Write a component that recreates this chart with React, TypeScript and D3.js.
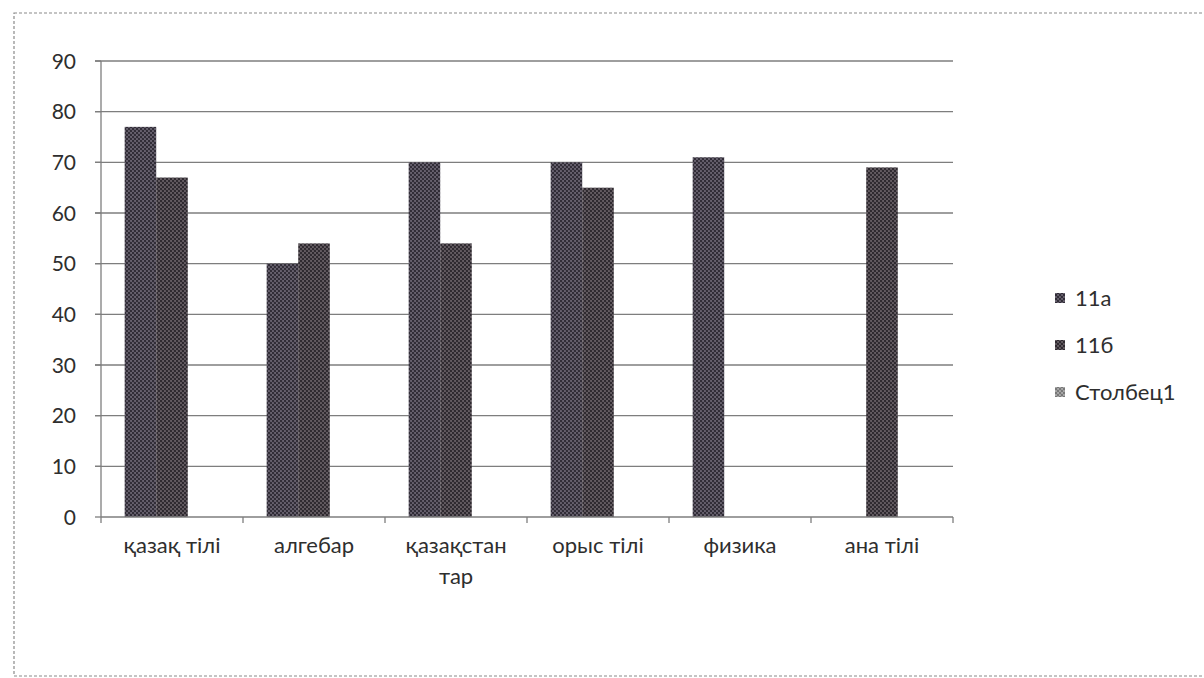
import React, { useEffect, useRef } from "react";
import * as d3 from "d3";

const categories: string[][] = [
  ["қазақ тілі"],
  ["алгебар"],
  ["қазақстан", "тар"],
  ["орыс тілі"],
  ["физика"],
  ["ана тілі"],
];
const seriesNames = ["11а", "11б", "Столбец1"];
const values11a: (number | null)[] = [77, 50, 70, 70, 71, null];
const values11b: (number | null)[] = [67, 54, 54, 65, null, 69];
const valuesCol1: (number | null)[] = [null, null, null, null, null, null];
const yTicks = [0, 10, 20, 30, 40, 50, 60, 70, 80, 90];

const W = 1204;
const H = 678;

export default function App() {
  const ref = useRef<SVGSVGElement>(null);

  useEffect(() => {
    const svg = d3.select(ref.current);
    svg.selectAll("*").remove();

    const left = 101, right = 953, top = 61, bottom = 517;
    const font = "Lato, 'Open Sans', sans-serif";
    const txt = "#2e2e2e";

    const defs = svg.append("defs");
    const pats = [
      { id: "p0", bg: "#67616e", dot: "#2f2b35" },
      { id: "p1", bg: "#645c62", dot: "#2d282e" },
      { id: "p2", bg: "#a9a9a9", dot: "#777" },
    ];
    pats.forEach((p) => {
      const pat = defs.append("pattern").attr("id", p.id)
        .attr("width", 4).attr("height", 4).attr("patternUnits", "userSpaceOnUse");
      pat.append("rect").attr("width", 4).attr("height", 4).attr("fill", p.bg);
      pat.append("circle").attr("cx", 1).attr("cy", 1).attr("r", 1.2).attr("fill", p.dot);
      pat.append("circle").attr("cx", 3).attr("cy", 3).attr("r", 1.2).attr("fill", p.dot);
    });

    // page border (dashed)
    svg.append("rect").attr("x", 14).attr("y", 13).attr("width", 1210).attr("height", 663)
      .attr("fill", "none").attr("stroke", "#8a8a8a").attr("stroke-width", 1.2)
      .attr("stroke-dasharray", "3,2");

    const y = d3.scaleLinear().domain([0, 90]).range([bottom, top]);
    const x0 = d3.scaleBand<number>().domain(d3.range(categories.length)).range([left, right]).paddingInner(0).paddingOuter(0);
    const bw = x0.bandwidth();
    const barW = bw / 4.5;
    const x1 = d3.scaleBand<number>().domain([0, 1, 2]).range([barW * 0.75, bw - barW * 0.75]).padding(0);

    // gridlines
    svg.append("g").selectAll("line").data(yTicks.filter((t) => t > 0)).join("line")
      .attr("x1", left - 6).attr("x2", right)
      .attr("y1", (d) => y(d)).attr("y2", (d) => y(d))
      .attr("stroke", "#7e7e7e").attr("stroke-width", 1.3);

    // y axis line and ticks
    svg.append("line").attr("x1", left).attr("x2", left).attr("y1", top).attr("y2", bottom)
      .attr("stroke", "#7e7e7e").attr("stroke-width", 1.3);
    svg.append("g").selectAll("line").data(yTicks).join("line")
      .attr("x1", left - 6).attr("x2", left)
      .attr("y1", (d) => y(d)).attr("y2", (d) => y(d))
      .attr("stroke", "#7e7e7e").attr("stroke-width", 1.3);
    svg.append("g").selectAll("text").data(yTicks).join("text")
      .attr("x", left - 25).attr("y", (d) => y(d)).attr("dy", "0.36em")
      .attr("text-anchor", "end").attr("font-family", font).attr("font-size", 21)
      .attr("fill", txt).text((d) => String(d));

    // bars
    const series = [values11a, values11b, valuesCol1];
    series.forEach((vals, si) => {
      svg.append("g").selectAll("rect")
        .data(vals.map((v, i) => ({ v, i })).filter((d) => d.v != null))
        .join("rect")
        .attr("x", (d) => (x0(d.i) as number) + (x1(si) as number))
        .attr("width", x1.bandwidth())
        .attr("y", (d) => y(d.v as number))
        .attr("height", (d) => bottom - y(d.v as number))
        .attr("fill", `url(#p${si})`);
    });

    // x axis
    svg.append("line").attr("x1", left).attr("x2", right).attr("y1", bottom).attr("y2", bottom)
      .attr("stroke", "#7e7e7e").attr("stroke-width", 1.3);
    const bounds = d3.range(categories.length + 1).map((i) => left + i * bw);
    svg.append("g").selectAll("line").data(bounds).join("line")
      .attr("x1", (d) => d).attr("x2", (d) => d).attr("y1", bottom).attr("y2", bottom + 6)
      .attr("stroke", "#7e7e7e").attr("stroke-width", 1.3);
    const lab = svg.append("g").selectAll("text").data(categories).join("text")
      .attr("text-anchor", "middle").attr("font-family", font).attr("font-size", 22)
      .attr("fill", txt)
      .attr("transform", (_d, i) => `translate(${(x0(i) as number) + bw / 2},${bottom + 36})`);
    lab.selectAll("tspan").data((d) => d).join("tspan")
      .attr("x", 0).attr("y", (_d, j) => j * 31).text((d) => d);

    // legend
    const leg = svg.append("g").selectAll("g").data(seriesNames).join("g")
      .attr("transform", (_d, i) => `translate(1055,${298 + i * 47})`);
    leg.append("rect").attr("x", 0).attr("y", -5).attr("width", 10).attr("height", 10)
      .attr("fill", (_d, i) => `url(#p${i})`);
    leg.append("text").attr("x", 20).attr("y", 0).attr("dy", "0.36em")
      .attr("font-family", font).attr("font-size", 22).attr("fill", txt)
      .text((d) => d);
  }, []);

  return (
    <svg ref={ref} width={W} height={H}
      style={{ position: "absolute", left: 0, top: 0, background: "#fff" }} />
  );
}
